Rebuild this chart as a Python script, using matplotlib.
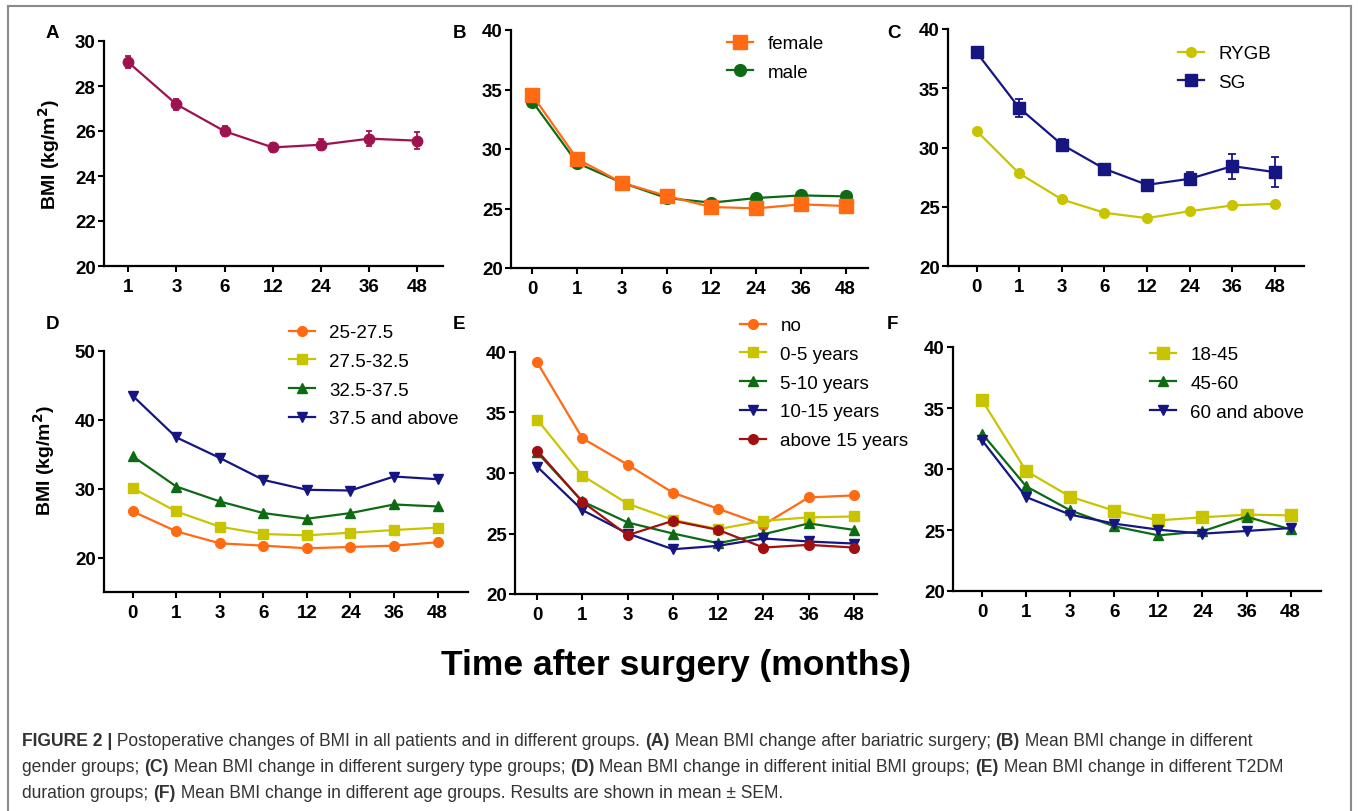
import matplotlib
matplotlib.use("Agg")
import matplotlib.pyplot as plt
from matplotlib.lines import Line2D

plt.rcParams['font.family'] = ['Liberation Sans', 'DejaVu Sans']

W, H = 1358, 812
DPI = 100

# ---------------- data ----------------
months_A = ['1', '3', '6', '12', '24', '36', '48']
months = ['0', '1', '3', '6', '12', '24', '36', '48']

bmi_all = [29.06, 27.19, 25.99, 25.27, 25.39, 25.66, 25.57]
bmi_all_sem = [0.28, 0.25, 0.23, 0.2, 0.25, 0.33, 0.38]

female = [34.51, 29.16, 27.17, 26.05, 25.13, 25.01, 25.35, 25.21]
male = [33.98, 28.82, 27.17, 25.88, 25.49, 25.88, 26.10, 26.02]

rygb = [31.40, 27.81, 25.62, 24.49, 24.04, 24.63, 25.11, 25.25]
rygb_sem = [0.12, 0.12, 0.12, 0.1, 0.1, 0.12, 0.15, 0.18]
sg = [38.03, 33.34, 30.25, 28.20, 26.85, 27.36, 28.43, 27.92]
sg_sem = [0.46, 0.73, 0.46, 0.3, 0.3, 0.56, 1.05, 1.25]

bmi_25_275 = [26.70, 23.81, 22.07, 21.73, 21.35, 21.54, 21.73, 22.22]
bmi_275_325 = [30.08, 26.70, 24.48, 23.42, 23.23, 23.61, 24.00, 24.34]
bmi_325_375 = [34.71, 30.32, 28.15, 26.46, 25.64, 26.46, 27.71, 27.42]
bmi_375_up = [43.49, 37.46, 34.47, 31.28, 29.84, 29.74, 31.77, 31.38]

t2dm_no = [39.14, 32.87, 30.69, 28.37, 27.04, 25.72, 27.98, 28.15]
t2dm_0_5 = [34.42, 29.78, 27.46, 26.13, 25.36, 26.05, 26.33, 26.41]
t2dm_5_10 = [31.71, 27.65, 25.91, 25.00, 24.20, 24.94, 25.83, 25.30]
t2dm_10_15 = [30.52, 26.93, 25.00, 23.70, 23.98, 24.59, 24.34, 24.17]
t2dm_15_up = [31.85, 27.62, 24.86, 26.05, 25.30, 23.84, 24.06, 23.84]

age_18_45 = [35.63, 29.84, 27.73, 26.58, 25.79, 26.04, 26.26, 26.20]
age_45_60 = [32.90, 28.58, 26.61, 25.30, 24.56, 24.89, 26.09, 25.05]
age_60_up = [32.35, 27.70, 26.26, 25.52, 25.03, 24.70, 24.92, 25.16]

# ---------------- styles ----------------
C_CRIMSON = '#9E1250'
C_ORANGE = '#FF6A13'
C_GREEN = '#0E6B14'
C_YELLOW = '#C8C400'
C_NAVY = '#161683'
C_RED = '#A01010'

fig = plt.figure(figsize=(W / DPI, H / DPI), dpi=DPI)
fig.patch.set_facecolor('white')

TICK_FS = 13.5


def px_axes(left, right, top, bottom):
    return fig.add_axes([left / W, 1 - bottom / H, (right - left) / W, (bottom - top) / H])


def style_axes(ax, ylim, yticks, xlim):
    ax.set_ylim(*ylim)
    ax.set_yticks(yticks)
    ax.set_xlim(*xlim)
    for s in ['top', 'right']:
        ax.spines[s].set_visible(False)
    for s in ['left', 'bottom']:
        ax.spines[s].set_linewidth(1.6)
        ax.spines[s].set_color('black')
    ax.tick_params(axis='both', direction='out', length=4, width=1.5,
                   labelsize=TICK_FS, pad=2, colors='black')
    for lab in ax.get_xticklabels() + ax.get_yticklabels():
        lab.set_fontweight('bold')
    ax.tick_params(axis='x', pad=5)


def legend(ax, left, top, handles=None, labels=None):
    kw = dict(loc='upper left', bbox_to_anchor=(left / W, 1 - top / H),
              bbox_transform=fig.transFigure, frameon=False, fontsize=13.5,
              handlelength=1.4, handletextpad=0.75, labelspacing=0.62,
              borderpad=0, borderaxespad=0)
    if handles is None:
        ax.legend(**kw)
    else:
        ax.legend(handles, labels, **kw)


LW = 1.6
YLABEL = 'BMI (kg/m$^{\\mathbf{2}}$)'

# ---------------- Panel A ----------------
axA = px_axes(104, 443, 42, 267)
axA.errorbar(months_A, bmi_all, yerr=bmi_all_sem, color=C_CRIMSON, lw=LW,
             marker='o', ms=7.5, capsize=2.5, elinewidth=1.3, capthick=1.3)
style_axes(axA, (20, 30), [20, 22, 24, 26, 28, 30], (-0.5, 6.53))
axA.set_ylabel(YLABEL, fontsize=14, fontweight='bold')
axA.yaxis.set_label_coords(-0.125, 0.5)

# ---------------- Panel B ----------------
axB = px_axes(511, 868, 31, 269)
lm, = axB.plot(months, male, color=C_GREEN, lw=LW, marker='o', ms=8.5, label='male')
lf, = axB.plot(months, female, color=C_ORANGE, lw=LW, marker='s', ms=10, label='female')
style_axes(axB, (20, 40), [20, 25, 30, 35, 40], (-0.48, 7.5))
legend(axB, 727, 36, [lf, lm], ['female', 'male'])

# ---------------- Panel C ----------------
axC = px_axes(948, 1304, 30, 267)
axC.errorbar(months, rygb, yerr=rygb_sem, color=C_YELLOW, lw=LW, marker='o',
             ms=7, capsize=2.5, elinewidth=1.3, capthick=1.3, label='RYGB')
axC.errorbar(months, sg, yerr=sg_sem, color=C_NAVY, lw=LW, marker='s',
             ms=8, capsize=3, elinewidth=1.3, capthick=1.3, label='SG')
style_axes(axC, (20, 40), [20, 25, 30, 35, 40], (-0.67, 7.68))
legend(axC, 1178, 46,
       [Line2D([], [], color=C_YELLOW, lw=LW, marker='o', ms=7),
        Line2D([], [], color=C_NAVY, lw=LW, marker='s', ms=8)], ['RYGB', 'SG'])

# ---------------- Panel D ----------------
axD = px_axes(104, 468, 352, 593)
axD.plot(months, bmi_25_275, color=C_ORANGE, lw=LW, marker='o', ms=7, label='25-27.5')
axD.plot(months, bmi_275_325, color=C_YELLOW, lw=LW, marker='s', ms=7, label='27.5-32.5')
axD.plot(months, bmi_325_375, color=C_GREEN, lw=LW, marker='^', ms=7, label='32.5-37.5')
axD.plot(months, bmi_375_up, color=C_NAVY, lw=LW, marker='v', ms=7, label='37.5 and above')
style_axes(axD, (15, 50), [20, 30, 40, 50], (-0.66, 7.7))
axD.set_ylabel(YLABEL, fontsize=14, fontweight='bold')
axD.yaxis.set_label_coords(-0.129, 0.55)
legend(axD, 289, 325)

# ---------------- Panel E ----------------
axE = px_axes(515, 877, 353, 595)
axE.plot(months, t2dm_no, color=C_ORANGE, lw=LW, marker='o', ms=7, label='no')
axE.plot(months, t2dm_0_5, color=C_YELLOW, lw=LW, marker='s', ms=7, label='0-5 years')
axE.plot(months, t2dm_5_10, color=C_GREEN, lw=LW, marker='^', ms=7, label='5-10 years')
axE.plot(months, t2dm_10_15, color=C_NAVY, lw=LW, marker='v', ms=7, label='10-15 years')
axE.plot(months, t2dm_15_up, color=C_RED, lw=LW, marker='o', ms=7, label='above 15 years')
style_axes(axE, (20, 40), [20, 25, 30, 35, 40], (-0.49, 7.51))
legend(axE, 740, 318)

# ---------------- Panel F ----------------
axF = px_axes(953, 1321, 348, 592)
axF.plot(months, age_18_45, color=C_YELLOW, lw=LW, marker='s', ms=8, label='18-45')
axF.plot(months, age_45_60, color=C_GREEN, lw=LW, marker='^', ms=7, label='45-60')
axF.plot(months, age_60_up, color=C_NAVY, lw=LW, marker='v', ms=7, label='60 and above')
style_axes(axF, (20, 40), [20, 25, 30, 35, 40], (-0.66, 7.69))
legend(axF, 1150, 347)

# ---------------- panel letters ----------------
for letter, x, y in [('A', 46, 33), ('B', 453, 33), ('C', 887, 33),
                     ('D', 46, 325), ('E', 453, 325), ('F', 887, 325)]:
    fig.text(x / W, 1 - y / H, letter, fontsize=13.5, fontweight='bold',
             ha='left', va='center')

# ---------------- common x label ----------------
fig.text(676 / W, 1 - 666 / H, 'Time after surgery (months)', fontsize=25.5,
         fontweight='bold', ha='center', va='center')

# ---------------- outer frame ----------------
frame_col = '#8a8a8a'
fig.add_artist(Line2D([8 / W, 8 / W], [0, 1 - 7 / H], transform=fig.transFigure,
                      color=frame_col, lw=1.5))
fig.add_artist(Line2D([1351 / W, 1351 / W], [0, 1 - 7 / H], transform=fig.transFigure,
                      color=frame_col, lw=1.5))
fig.add_artist(Line2D([8 / W, 1351 / W], [1 - 7 / H, 1 - 7 / H], transform=fig.transFigure,
                      color=frame_col, lw=1.5))

# ---------------- caption ----------------
caption_lines = [
    [("FIGURE 2 |", True), (" Postoperative changes of BMI in all patients and in different groups. ", False),
     ("(A)", True), (" Mean BMI change after bariatric surgery; ", False), ("(B)", True),
     (" Mean BMI change in different", False)],
    [("gender groups; ", False), ("(C)", True), (" Mean BMI change in different surgery type groups; ", False),
     ("(D)", True), (" Mean BMI change in different initial BMI groups; ", False), ("(E)", True),
     (" Mean BMI change in different T2DM", False)],
    [("duration groups; ", False), ("(F)", True),
     (" Mean BMI change in different age groups. Results are shown in mean \u00b1 SEM.", False)],
]
caption_y = [742, 768, 794]
cap_color = '#333333'
renderer = fig.canvas.get_renderer()


def text_width(s, bold, size):
    t1 = fig.text(0, 0, 'a' + s + 'a', fontsize=size, fontweight='bold' if bold else 'normal')
    t2 = fig.text(0, 0, 'aa', fontsize=size, fontweight='bold' if bold else 'normal')
    w = t1.get_window_extent(renderer).width - t2.get_window_extent(renderer).width
    t1.remove()
    t2.remove()
    return w


base = 12.0
w1 = sum(text_width(s, b, base) for s, b in caption_lines[0])
size = base * (1263 - 22) / w1

for line, y in zip(caption_lines, caption_y):
    x = 22.0
    for s, b in line:
        fig.text(x / W, 1 - y / H, s, fontsize=size, fontweight='bold' if b else 'normal',
                 color=cap_color, ha='left', va='center')
        x += text_width(s, b, size)

fig.savefig('out.png', dpi=DPI, facecolor='white')
